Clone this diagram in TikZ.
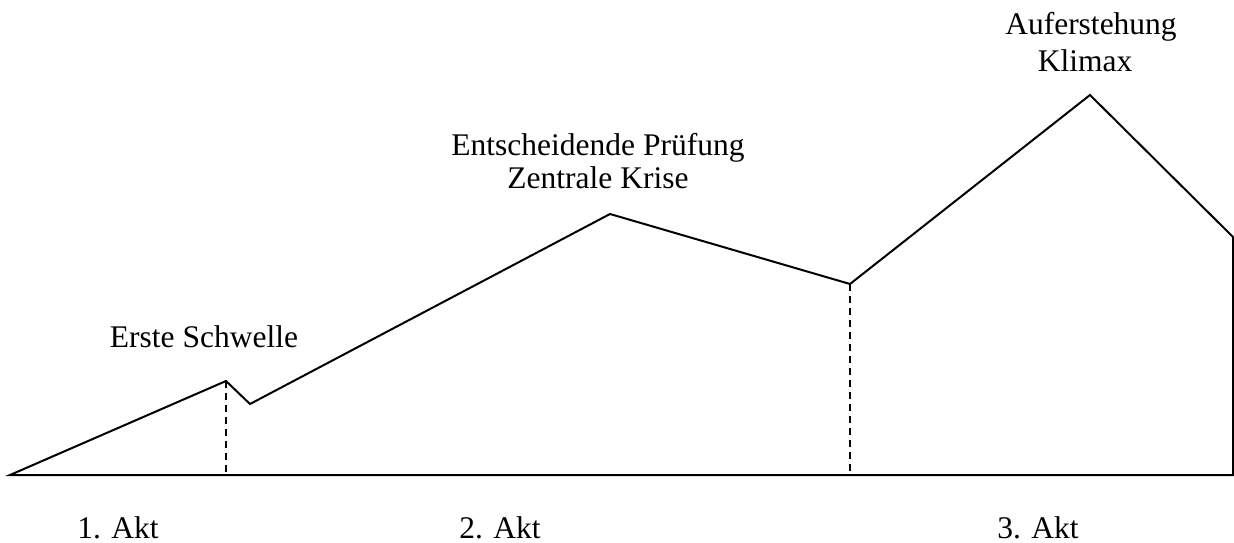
\documentclass[tikz,border=0pt]{standalone}
\usepackage{fontspec}
\setmainfont{Liberation Serif}

\begin{document}
\begin{tikzpicture}[x=1pt, y=-1pt,
        curve/.style={line width=2pt, line join=miter},
        actline/.style={line width=1.8pt, dash pattern=on 7pt off 5pt},
        label/.style={anchor=base, inner sep=0pt, font=\fontsize{31.5}{36}\selectfont}
        ]
        \useasboundingbox (0,0) rectangle (1234,543);
        % points of the curve
        \coordinate (start) at (10,475);
        \coordinate (threshold) at (226,381);
        \coordinate (dip) at (250,404);
        \coordinate (ordeal) at (610,214);
        \coordinate (crisis) at (850,284);
        \coordinate (climax) at (1090,95);
        \coordinate (finish) at (1233,237);
        \coordinate (end) at (1233,475);
        \coordinate (threshold base) at (226,475);
        \coordinate (crisis base) at (850,475);
        \draw [curve] (start) -- (threshold) -- (dip) -- (ordeal) -- (crisis)
          -- (climax) -- (finish) -- (end) -- cycle;
        \draw [actline] (threshold) -- (threshold base);
        \draw [actline] (crisis) -- (crisis base);
        % labels
        \node [label, name=lthreshold] at (204,347) {Erste Schwelle};
        \node [label, name=lordeal] at (598,155) {Entscheidende Prüfung};
        \node [label, name=lcrisis] at (598,188) {Zentrale Krise};
        \node [label, name=lresurrection] at (1091,35) {Auferstehung};
        \node [label, name=lclimax] at (1085,71) {Klimax};
        \node [label, name=act1] at (118,538) {1. Akt};
        \node [label, name=act2] at (500,538) {2. Akt};
        \node [label, name=act3] at (1038,538) {3. Akt};
\end{tikzpicture}
\end{document}
